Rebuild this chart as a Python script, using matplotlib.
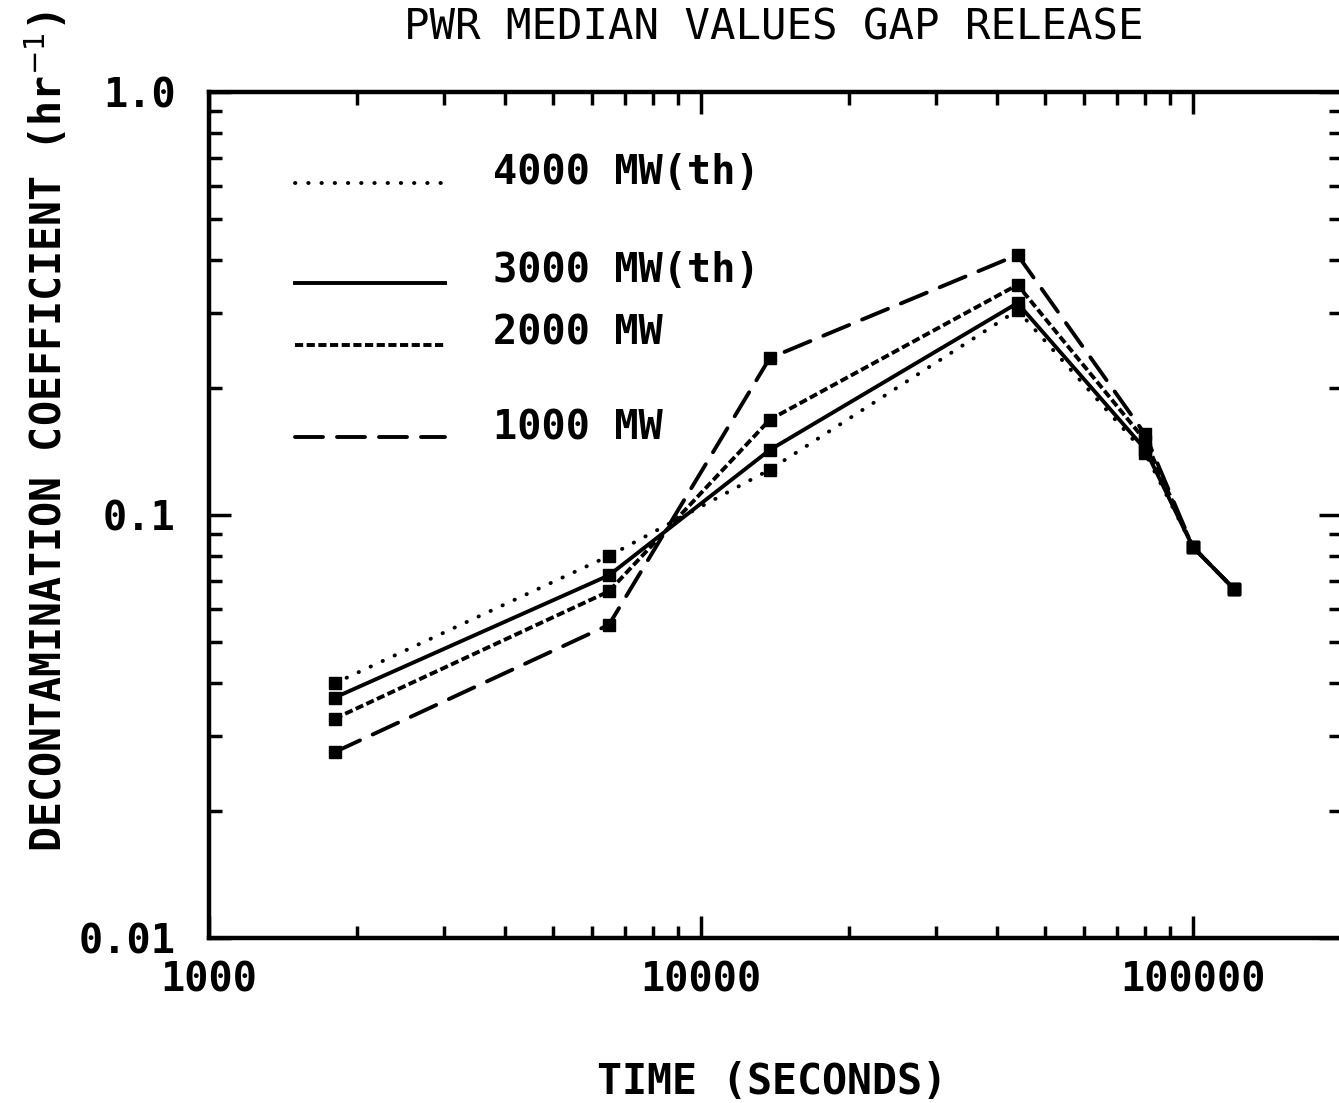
import matplotlib.pyplot as plt
from matplotlib.ticker import FixedLocator, LogLocator, NullFormatter

# valores (tempo em segundos, coef. em 1/h)
tempo = [1800, 6500, 13800, 44000, 80000, 100000, 121000]
mw4000 = [0.040, 0.080, 0.128, 0.305, 0.140, 0.084, 0.067]
mw3000 = [0.037, 0.072, 0.1425, 0.317, 0.143, 0.084, 0.067]
mw2000 = [0.033, 0.066, 0.168, 0.350, 0.150, 0.084, 0.067]
mw1000 = [0.0275, 0.055, 0.235, 0.412, 0.155, 0.084, 0.067]

legendas = ['4000 MW(th)', '3000 MW(th)', '2000 MW', '1000 MW']
estilos = [(0, (0.1, 3.3)), '-', (0, (2.1, 0.9)), (0, (7.2, 3.6))]
capstyles = ['round', 'butt', 'butt', 'round']
ytick_vals = [0.01, 0.1, 1.0]
ytick_txt = ['0.01', '0.1', '1.0']
xtick_vals = [1000, 10000, 100000]
xtick_txt = ['1000', '10000', '100000']

fonte = 'DejaVu Sans Mono'
plt.rcParams['font.family'] = fonte

fig = plt.figure(figsize=(13.39, 11.03), dpi=100)
ax = fig.add_axes([209 / 1339, 165 / 1103, 1132 / 1339, 846 / 1103])
ax.set_xscale('log')
ax.set_yscale('log')
ax.set_xlim(1000, 200000)
ax.set_ylim(0.01, 1.0)

lw = 2.8
series = [mw4000, mw3000, mw2000, mw1000]
for vals, ls, cs in zip(series, estilos, capstyles):
    ax.plot(tempo, vals, color='black', lw=lw, linestyle=ls,
            dash_capstyle=cs, marker='s', ms=8, mfc='black', mec='black')

# legenda desenhada a mao (espacamento irregular no original)
leg_y = [183, 283, 345, 437]
txt_y = [173, 270, 333, 428]
for lab, ls, cs, yl, yt in zip(legendas, estilos, capstyles, leg_y, txt_y):
    fy = 1 - (yl - 92) / 846
    ax.plot([(295 - 209) / 1132, (445 - 209) / 1132], [fy, fy], transform=ax.transAxes,
            color='black', lw=lw, linestyle=ls, dash_capstyle=cs)
    ax.text((493 - 209) / 1132, 1 - (yt - 92) / 846, lab, transform=ax.transAxes,
            fontsize=29, fontweight='bold', va='center', ha='left')

ax.xaxis.set_major_locator(FixedLocator(xtick_vals))
ax.xaxis.set_minor_locator(LogLocator(base=10, subs=range(2, 10)))
ax.xaxis.set_minor_formatter(NullFormatter())
ax.set_xticklabels(xtick_txt)
ax.yaxis.set_major_locator(FixedLocator(ytick_vals))
ax.yaxis.set_minor_locator(LogLocator(base=10, subs=range(2, 10)))
ax.yaxis.set_minor_formatter(NullFormatter())
ax.set_yticklabels(ytick_txt)

ax.tick_params(which='both', direction='in', top=True, right=True, width=2.5)
ax.tick_params(which='major', length=16, labelsize=29)
ax.tick_params(which='minor', length=9)
ax.tick_params(axis='x', which='major', pad=16)
ax.tick_params(axis='y', which='major', pad=24)
for lab in ax.get_xticklabels() + ax.get_yticklabels():
    lab.set_fontweight('bold')
for sp in ax.spines.values():
    sp.set_linewidth(3.2)

fig.text(774 / 1339, 1 - 27 / 1103, 'PWR MEDIAN VALUES GAP RELEASE', ha='center', va='center',
         fontsize=30.5)
fig.text(772 / 1339, 1 - 1082 / 1103, 'TIME (SECONDS)', ha='center', va='center',
         fontsize=30, fontweight='bold')
fig.text(48 / 1339, 1 - 432 / 1103, 'DECONTAMINATION COEFFICIENT (hr$^{-1}$)',
         rotation=90, ha='center', va='center', fontsize=30, fontweight='bold')

fig.savefig('out.png', dpi=100)
